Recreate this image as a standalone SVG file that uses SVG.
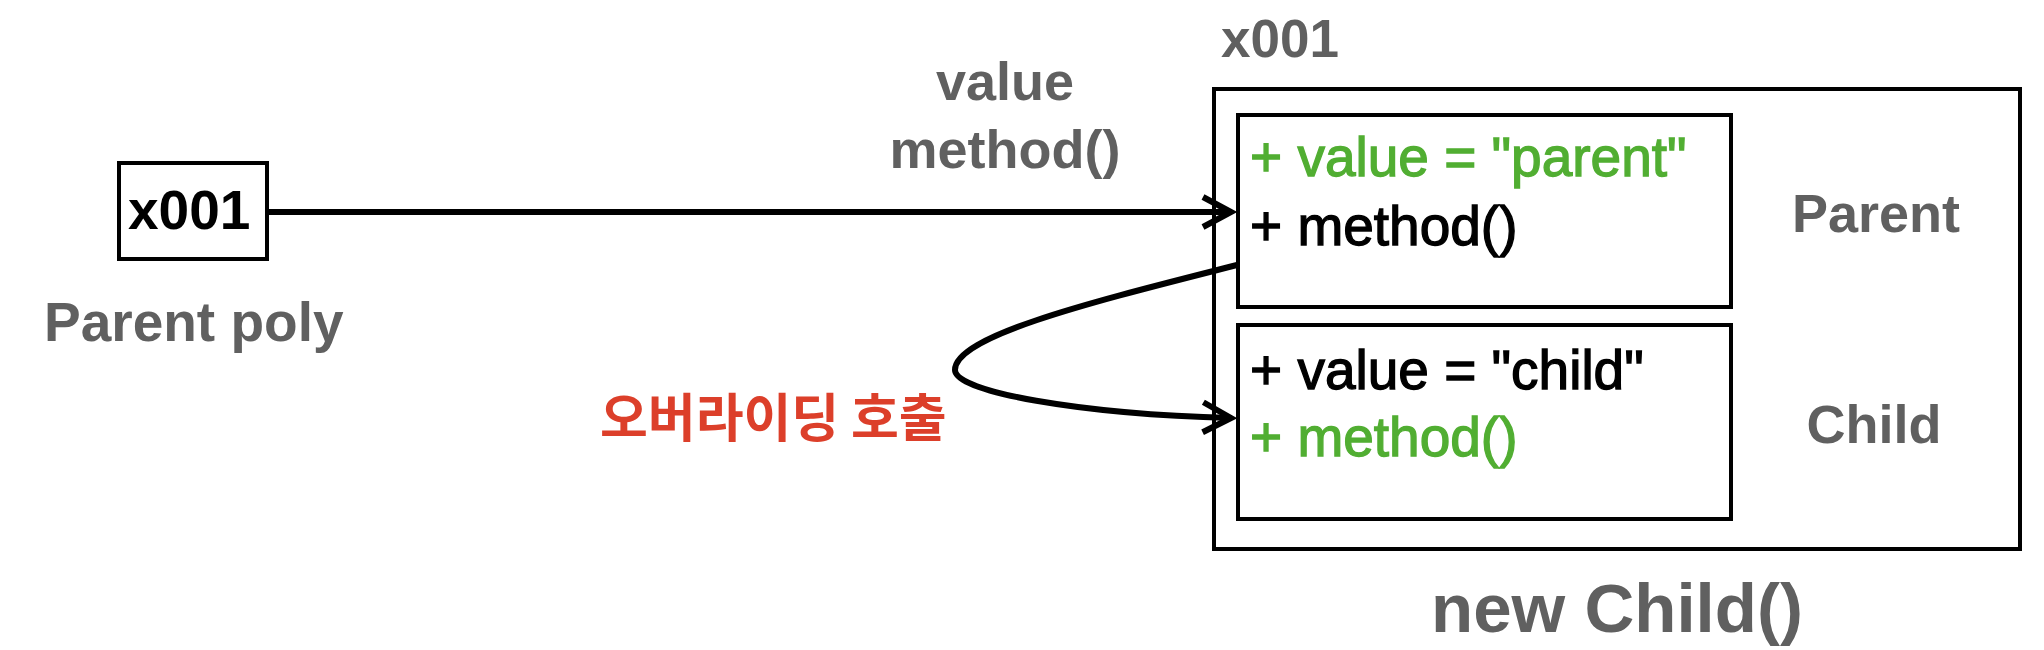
<svg xmlns="http://www.w3.org/2000/svg" width="2044" height="650" viewBox="0 0 2044 650">
  <style>
    .box { fill: #ffffff; stroke: #000000; stroke-width: 4; }
    .gray { font-family: "Liberation Sans", Arial, sans-serif; font-weight: bold; fill: #606060; }
    .mem { font-family: "Liberation Sans", Arial, sans-serif; font-size: 55px; stroke-width: 1.3px; }
    .green { fill: #51AE32; stroke: #51AE32; }
    .black { fill: #000000; stroke: #000000; }
    .conn { fill: none; stroke: #000000; }
    .red { font-family: "Noto Sans CJK KR", "Noto Sans CJK SC", sans-serif; font-weight: bold; fill: #DC3F2A; }
  </style>
  <defs>
    <marker id="chev" markerUnits="userSpaceOnUse" viewBox="-40 -25 50 50" markerWidth="50" markerHeight="50" refX="0" refY="0" orient="auto" overflow="visible">
      <path d="M-28,-15 L0,0 L-28,15" fill="none" stroke="#000000" stroke-width="6" stroke-linejoin="miter"/>
    </marker>
  </defs>
  <rect width="2044" height="650" fill="#ffffff"/>

  <g id="poly-ref">
    <rect class="box" x="119" y="163" width="148" height="96"/>
    <text x="128" y="229" class="gray" style="fill:#000000" font-size="55">x001</text>
    <text x="44" y="341" class="gray" font-size="55">Parent poly</text>
  </g>

  <g id="instance">
    <text x="1221" y="57" class="gray" font-size="53">x001</text>
    <rect class="box" x="1214" y="89" width="806" height="460"/>
    <text x="1617" y="632" class="gray" font-size="69" text-anchor="middle">new Child()</text>
  </g>

  <g id="parent-part">
    <rect class="box" x="1238" y="115" width="493" height="192"/>
    <text x="1250" y="176" class="mem green">+ value = "parent"</text>
    <text x="1250" y="245" class="mem black">+ method()</text>
    <text x="1876" y="232" class="gray" font-size="54" text-anchor="middle">Parent</text>
  </g>

  <g id="child-part">
    <rect class="box" x="1238" y="325" width="493" height="194"/>
    <text x="1250" y="389" class="mem black">+ value = "child"</text>
    <text x="1250" y="456" class="mem green">+ method()</text>
    <text x="1874" y="443" class="gray" font-size="54" text-anchor="middle">Child</text>
  </g>

  <g id="connectors">
    <path class="conn" stroke-width="6" d="M269,212 L1231,212" marker-end="url(#chev)"/>
    <path class="conn" stroke-width="6" d="M1237,265 C1100,300 955,335 955,370 C955,392 1080,414 1231,418" marker-end="url(#chev)"/>
    <text x="1005" y="100" class="gray" font-size="54" text-anchor="middle">value</text>
    <text x="1005" y="168" class="gray" font-size="54" text-anchor="middle">method()</text>
    <text x="600" y="437" class="red" font-size="52">오버라이딩 호출</text>
  </g>
</svg>
